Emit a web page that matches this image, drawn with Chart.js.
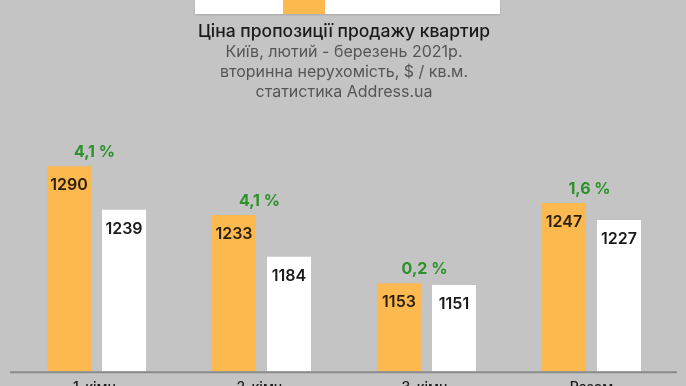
<!DOCTYPE html>
<html><head><meta charset="utf-8">
<script src="https://cdn.jsdelivr.net/npm/chart.js@4"></script>
<style>
html,body{margin:0;padding:0;background:#c4c4c4;overflow:hidden;width:686px;height:386px;}
#wrap{position:relative;width:686px;height:405px;}
canvas{display:block;}
#lg1{position:absolute;left:195px;top:0;width:305px;height:14px;background:#ffffff;box-shadow:0 1px 2px rgba(0,0,0,0.15);}
#lg2{position:absolute;left:283px;top:0;width:42px;height:14px;background:#fcb94f;}
</style></head>
<body>
<div id="wrap"><canvas id="c" width="686" height="405"></canvas><div id="lg1"></div><div id="lg2"></div></div>
<script>
const categories = ["1-кімн.", "2-кімн.", "3-кімн.", "Разом"];
const march2021 = [1290, 1233, 1153, 1247];
const feb2021 = [1239, 1184, 1151, 1227];
const changeLabels = ["4,1 %", "4,1 %", "0,2 %", "1,6 %"];
const titleText = "Ціна пропозиції продажу квартир";
const subtitleLines = ["Київ, лютий - березень 2021р.", "вторинна нерухомість, $ / кв.м.", "статистика Address.ua"];

const FONT = "Inter, 'Open Sans', sans-serif";

const labelsPlugin = {
  id: 'labelsPlugin',
  afterDatasetsDraw(chart) {
    const ctx = chart.ctx;
    const area = chart.chartArea;
    ctx.save();
    ctx.strokeStyle = '#8a8a8a';
    ctx.lineWidth = 2;
    ctx.beginPath();
    ctx.moveTo(area.left - 4, area.bottom + 1);
    ctx.lineTo(area.right + 3, area.bottom + 1);
    ctx.stroke();
    ctx.textAlign = 'center';
    ctx.textBaseline = 'middle';
    ctx.font = "600 16px " + FONT;
    chart.data.datasets.forEach((ds, di) => {
      const meta = chart.getDatasetMeta(di);
      meta.data.forEach((bar, i) => {
        ctx.fillStyle = di === 0 ? '#2a1e0c' : '#1a1a1a';
        ctx.fillText(String(ds.data[i]), bar.x, bar.y + 19);
      });
    });
    ctx.font = "700 16px " + FONT;
    ctx.fillStyle = '#2b9229';
    const m0 = chart.getDatasetMeta(0), m1 = chart.getDatasetMeta(1);
    changeLabels.forEach((t, i) => {
      const x = (m0.data[i].x + m1.data[i].x) / 2 - 2;
      const y = m0.data[i].y - 14;
      ctx.fillText(t, x, y);
    });
    ctx.restore();
  }
};

new Chart(document.getElementById('c'), {
  type: 'bar',
  data: {
    labels: categories,
    datasets: [
      { label: 'березень 2021', data: march2021, backgroundColor: '#fcb94f', borderWidth: 0 },
      { label: 'лютий 2021', data: feb2021, backgroundColor: '#ffffff', borderWidth: 0 }
    ]
  },
  options: {
    responsive: false,
    animation: false,
    devicePixelRatio: 1,
    categoryPercentage: 0.667,
    barPercentage: 0.8,
    layout: { padding: { left: 14, right: 12, top: 0, bottom: 0 } },
    plugins: {
      legend: { display: false },
      tooltip: { enabled: false },
      title: {
        display: true, text: titleText, color: '#1a1a1a',
        font: { family: FONT, size: 17.5, weight: '500', lineHeight: 1.15 },
        padding: { top: 22, bottom: 0 }
      },
      subtitle: {
        display: true, text: subtitleLines, color: '#555555',
        font: { family: FONT, size: 16, weight: '400', lineHeight: 1.25 },
        padding: { top: 0, bottom: 13 }
      }
    },
    scales: {
      x: {
        grid: { display: false, drawTicks: false },
        border: { display: false },
        ticks: { color: '#1a1a1a', font: { family: FONT, size: 14, weight: '500', lineHeight: 0.2 }, padding: 15.5 }
      },
      y: { display: false, min: 1050, max: 1350 }
    }
  },
  plugins: [labelsPlugin]
});
</script>
</body></html>
